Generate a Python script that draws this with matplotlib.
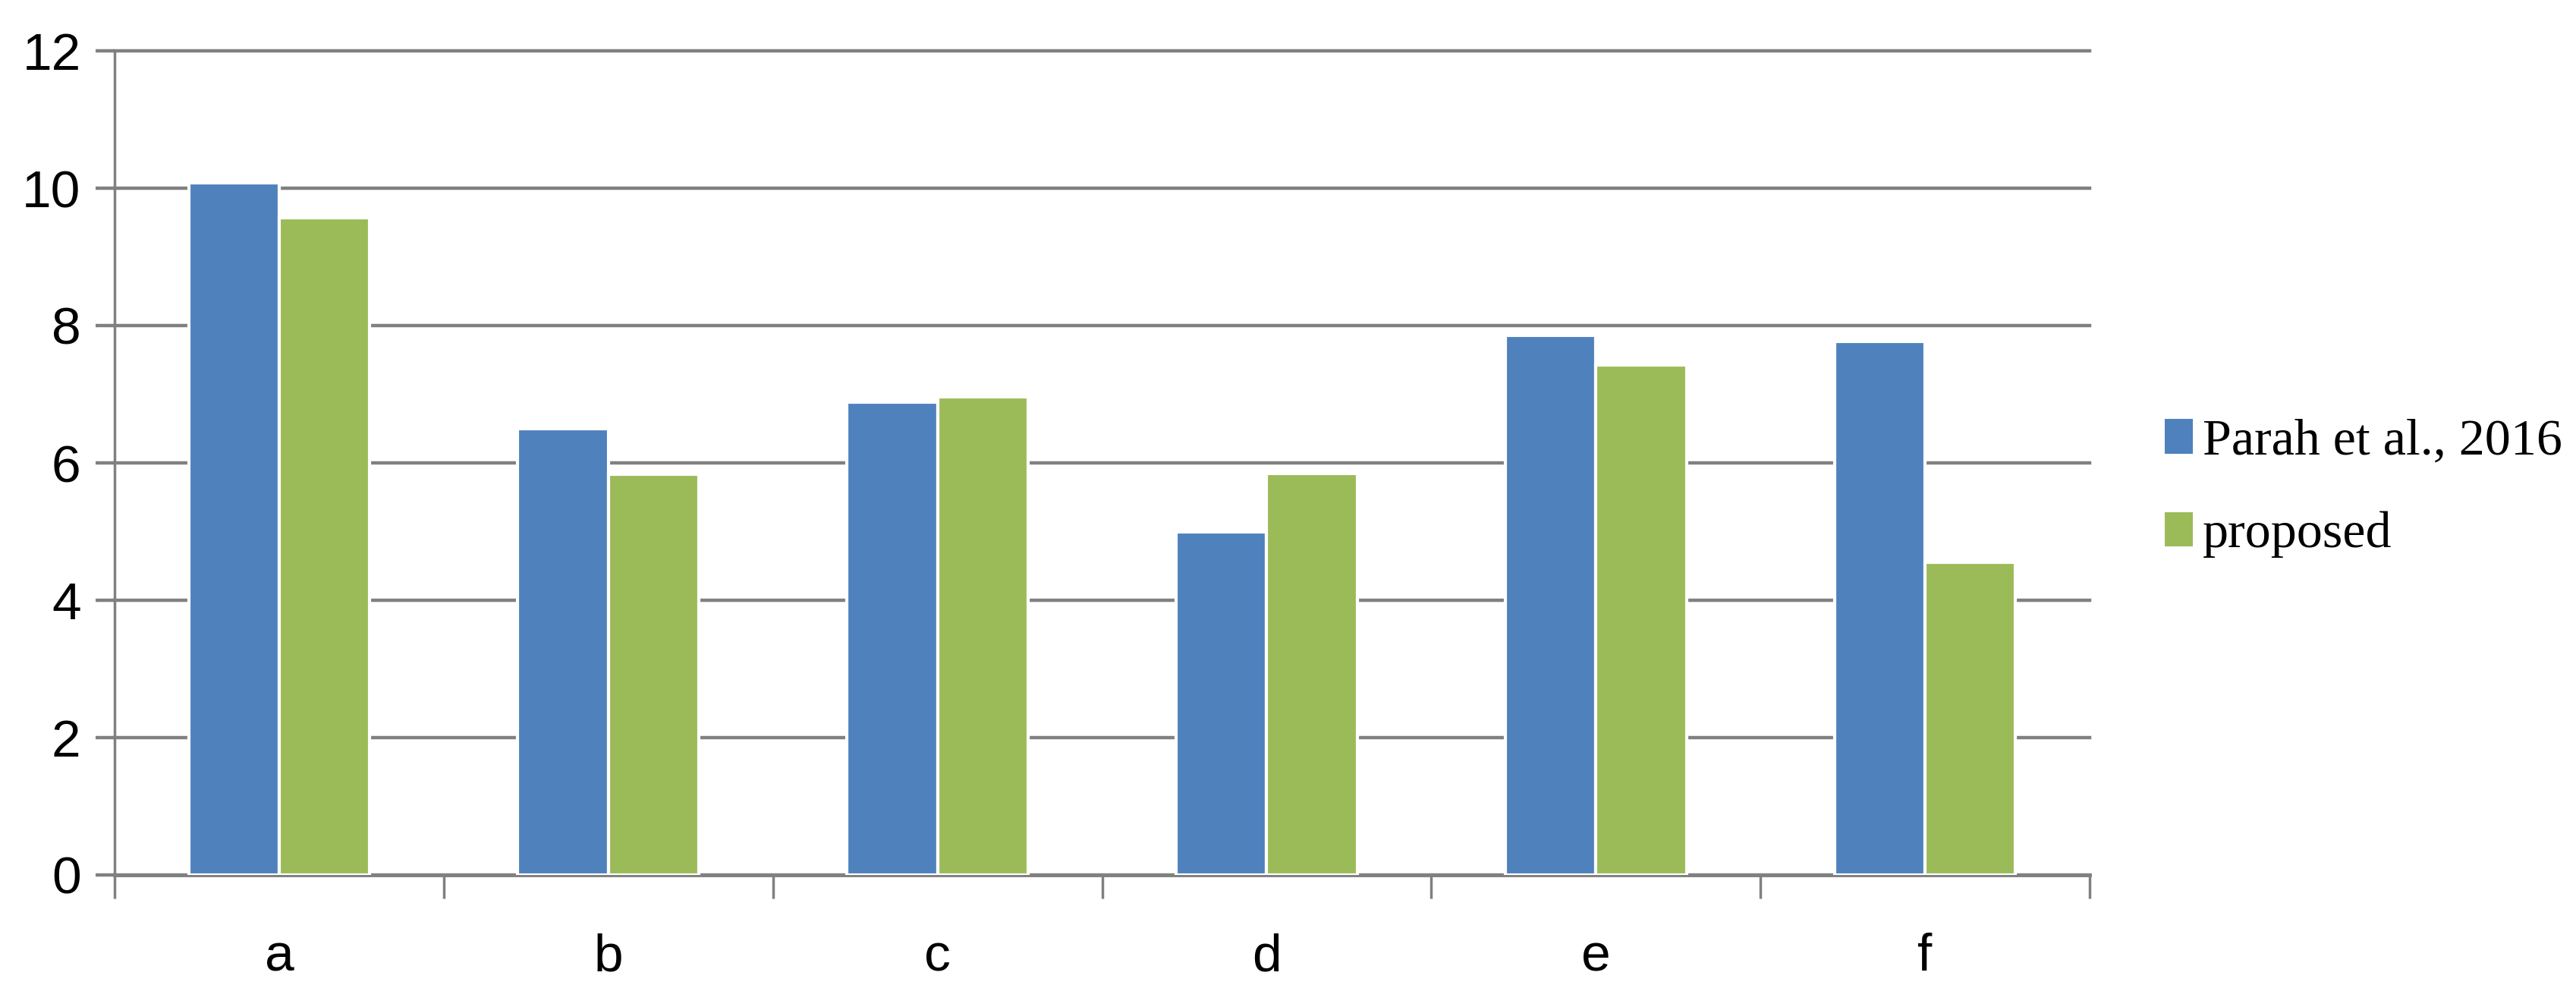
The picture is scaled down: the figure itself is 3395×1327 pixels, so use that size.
import matplotlib
matplotlib.use("Agg")
import matplotlib.pyplot as plt
import numpy as np

# === DATA ===
categories = ["a", "b", "c", "d", "e", "f"]
parah_2016 = [10.08, 6.50, 6.88, 5.00, 7.86, 7.77]
proposed = [9.57, 5.83, 6.96, 5.84, 7.43, 4.55]
series_names = ["Parah et al., 2016", "proposed"]
y_ticks = [0, 2, 4, 6, 8, 10, 12]

# === STYLE ===
BLUE = "#4F81BD"
GREEN = "#9BBB59"
GREY = "#808080"
tick_font = ["Liberation Sans Narrow", "Liberation Sans", "DejaVu Sans"]
legend_font = ["Liberation Serif", "DejaVu Serif"]

W, H = 3395, 1327
fig = plt.figure(figsize=(W / 100, H / 100), dpi=100)
ax = fig.add_axes([151 / W, 174 / H, (2754 - 151) / W, (1153 - 67) / H])

x = np.arange(len(categories))
bw = 0.275
ax.bar(x - bw / 2, parah_2016, width=bw, color=BLUE, edgecolor="white",
       linewidth=3, zorder=3, label=series_names[0])
ax.bar(x + bw / 2, proposed, width=bw, color=GREEN, edgecolor="white",
       linewidth=3, zorder=3, label=series_names[1])

ax.set_xlim(-0.5, len(categories) - 0.5)
ax.set_ylim(0, 12)

# y axis: grid + ticks
ax.set_yticks(y_ticks)
ax.set_yticklabels([str(v) for v in y_ticks], fontsize=50, family=tick_font)
ax.yaxis.grid(True, color=GREY, linewidth=3.2, zorder=0)
ax.set_axisbelow(True)
for gl in ax.get_ygridlines():
    gl.set_clip_on(False)  # keep the top (12) line full width

# x axis: ticks on category boundaries, labels centred
ax.set_xticks(np.arange(-0.5, len(categories), 1.0))
ax.set_xticklabels([])
ax.set_xticks(x, minor=True)
ax.set_xticklabels(categories, minor=True, fontsize=50, family=tick_font)
ax.tick_params(axis="x", which="minor", length=0, pad=55)
ax.tick_params(axis="x", which="major", length=22, width=2.5, color=GREY)
ax.tick_params(axis="y", length=18, width=3.2, color=GREY, pad=14)

for side in ["top", "right"]:
    ax.spines[side].set_visible(False)
for side in ["left", "bottom"]:
    ax.spines[side].set_color(GREY)
ax.spines["left"].set_linewidth(2.5)
ax.spines["bottom"].set_linewidth(3.5)

leg = ax.legend(loc="center left", bbox_to_anchor=(2853 / W, 0.515),
                bbox_transform=fig.transFigure, frameon=False,
                prop={"family": legend_font, "size": 49},
                handlelength=0.54, handleheight=0.65, handletextpad=0.2,
                labelspacing=0.9, borderpad=0, borderaxespad=0)
for p in leg.get_patches():
    p.set_linewidth(0)

fig.savefig("out.png", dpi=100)
